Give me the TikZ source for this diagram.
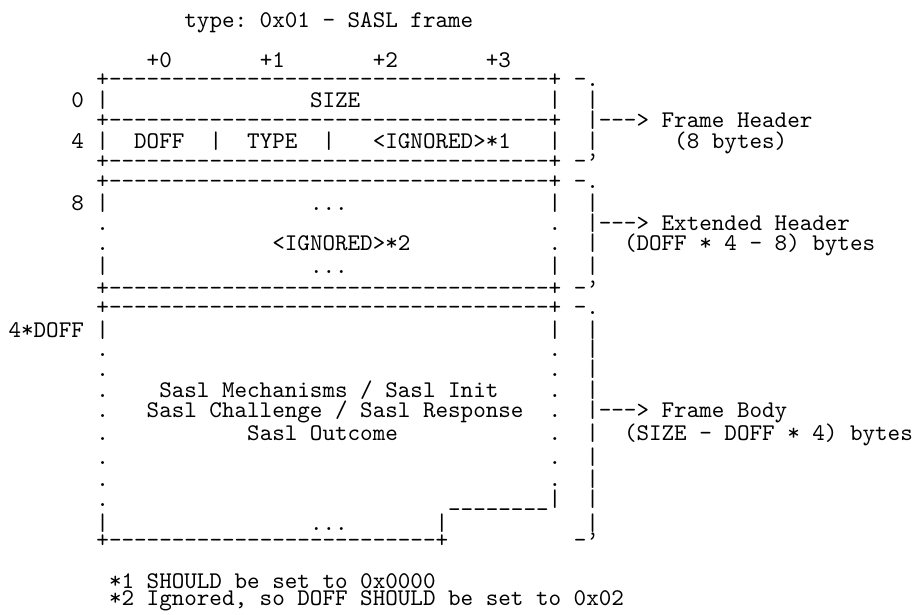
\documentclass[tikz,border=0pt]{standalone}
\usepackage{fontspec}
\usepackage{tikz}
\ExplSyntaxOn
\NewDocumentCommand\dashline{m}{\prg_replicate:nn{#1}{-\kern0pt}}
\ExplSyntaxOff
\newcommand\border{+\dashline{35}+}
\tikzset{ascii/.style={font=\ttfamily\frenchspacing, anchor=base west, inner sep=0pt, outer sep=0pt}}

\begin{document}
\begin{tikzpicture}[x=5.25pt, y=-0.418pt, every node/.style={ascii}]
			\useasboundingbox (0.318,0) rectangle (73.25,615);
			
			% Title and byte offsets
			\node (title) at (15,27) {type: 0x01 - SASL frame};
			\node (off0) at (12,67) {+0};
			\node (off1) at (21,67) {+1};
			\node (off2) at (30,67) {+2};
			\node (off3) at (39,67) {+3};
			
			% Frame header
			\node (hdrTop) at (8,86) {\border};
			\node (hdrOpen) at (46,86) {-.};
			\node (row0) at (6,107) {0};
			\node (row0l) at (8,107) {|};
			\node (size) at (25,107) {SIZE};
			\node (row0r) at (44,107) {|};
			\node (hdrBar0) at (47,107) {|};
			\node (hdrMid) at (8,127) {\border};
			\node (hdrArrow) at (47,127) {|\dashline{3}> Frame Header};
			\node (row4) at (6,148) {4};
			\node (row4l) at (8,148) {|};
			\node (doff) at (11,148) {DOFF};
			\node (sep1) at (17,148) {|};
			\node (type) at (20,148) {TYPE};
			\node (sep2) at (26,148) {|};
			\node (ign1) at (30,148) {<IGNORED>*1};
			\node (row4r) at (44,148) {|};
			\node (hdrBar1) at (47,148) {|};
			\node (hdrLen) at (54,148) {(8 bytes)};
			\node (hdrBot) at (8,168) {\border};
			\node (hdrClose) at (46,168) {-\textquoteright};
			
			% Extended header
			\node (extTop) at (8,188) {\border};
			\node (extOpen) at (46,188) {-.};
			\node (row8) at (6,210) {8};
			\node (row8l) at (8,210) {|};
			\node (extDots1) at (25,210) {...};
			\node (row8r) at (44,210) {|};
			\node (extBar0) at (47,210) {|};
			\node (extL1) at (8,230) {.};
			\node (extR1) at (44,230) {.};
			\node (extArrow) at (47,230) {|\dashline{3}> Extended Header};
			\node (extL2) at (8,250) {.};
			\node (ign2) at (22,250) {<IGNORED>*2};
			\node (extR2) at (44,250) {.};
			\node (extBar1) at (47,250) {|};
			\node (extLen) at (50,250) {(DOFF * 4 - 8) bytes};
			\node (extL3) at (8,273) {|};
			\node (extDots2) at (25,273) {...};
			\node (extR3) at (44,273) {|};
			\node (extBar2) at (47,273) {|};
			\node (extBot) at (8,295) {\border};
			\node (extClose) at (46,295) {-\textquoteright};
			
			% Frame body
			\node (bodyTop) at (8,314) {\border};
			\node (bodyOpen) at (46,314) {-.};
			\node (rowD) at (1,337) {4*DOFF};
			\node (rowDl) at (8,337) {|};
			\node (rowDr) at (44,337) {|};
			\foreach \y in {356,376,397,417,440,464,486,506}
				\node (bodyL\y) at (8,\y) {.};
			\foreach \y in {356,376,397,417,440,464,486}
				\node (bodyR\y) at (44,\y) {.};
			\foreach \y in {337,356,376,397,440,464,486,506,530}
				\node (bodyBar\y) at (47,\y) {|};
			\node (mech) at (13,397) {Sasl Mechanisms / Sasl Init};
			\node (chal) at (12,417) {Sasl Challenge / Sasl Response};
			\node (outc) at (20,440) {Sasl Outcome};
			\node (bodyArrow) at (47,417) {|\dashline{3}> Frame Body};
			\node (bodyLen) at (50,440) {(SIZE - DOFF * 4) bytes};
			\node (notch) at (36,506) {\_\_\_\_\_\_\_\_|};
			\node (lastL) at (8,530) {|};
			\node (lastDots) at (25,530) {...};
			\node (lastR) at (35,530) {|};
			\node (bodyBot) at (8,547) {+\dashline{26}+};
			\node (bodyClose) at (46,547) {-\textquoteright};
			
			% Footnotes
			\node (note1) at (9,588) {*1 SHOULD be set to 0x0000};
			\node (note2) at (9,605) {*2 Ignored, so DOFF SHOULD be set to 0x02};
		\end{tikzpicture}
\end{document}
